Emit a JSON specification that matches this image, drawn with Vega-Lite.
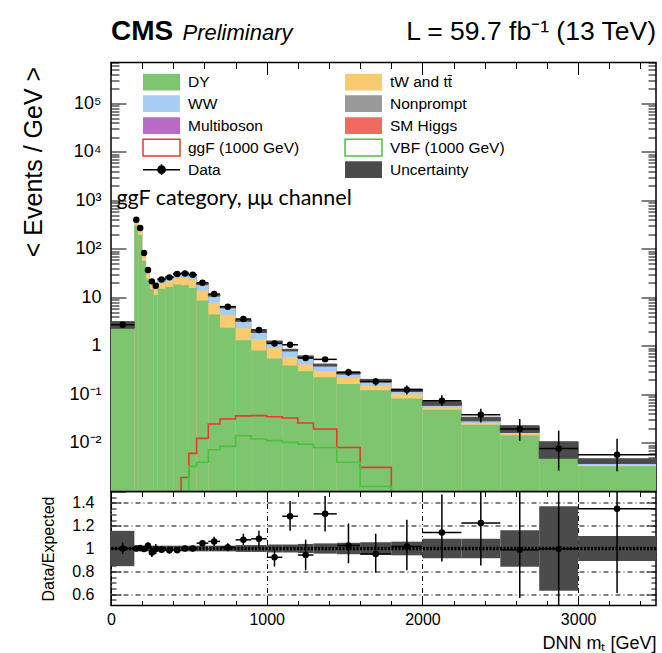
{
  "$schema": "https://vega.github.io/schema/vega-lite/v6.json",
  "background": "white",
  "padding": {"left": 20, "top": 16.5, "right": 6, "bottom": 2},
  "config": {
    "font": "Liberation Sans",
    "view": {"stroke": "black", "strokeWidth": 1.5},
    "axis": {
      "domain": false, "grid": false, "tickColor": "black", "tickWidth": 1,
      "labelColor": "black", "labelFont": "Liberation Sans", "titleFont": "Liberation Sans",
      "titleFontWeight": "normal", "titleColor": "black", "labelFlush": false, "labelOverlap": false
    }
  },
  "datasets": {
    "bins": [
      {"lo": 0, "hi": 150, "c": 75, "DY": 2.475, "tW": 0.0825, "WW": 0.0825, "NP": 0.066, "MB": 0.033, "H": 0.011, "d": 2.75, "dl": 2.618, "dh": 2.896, "ml": 2.324, "mh": 3.176, "r": 1.0, "rl": 0.952, "rh": 1.053, "bl": 0.845, "bh": 1.155},
      {"lo": 150, "hi": 175, "c": 162.5, "DY": 305.5, "tW": 52.3, "WW": 28.1, "NP": 9.65, "MB": 4.82, "H": 1.61, "d": 402, "dl": 398, "dh": 406, "ml": 392, "mh": 412, "r": 1.0, "rl": 0.99, "rh": 1.01, "bl": 0.975, "bh": 1.025},
      {"lo": 175, "hi": 200, "c": 187.5, "DY": 194.2, "tW": 40.5, "WW": 24.3, "NP": 6.47, "MB": 3.24, "H": 1.08, "d": 271, "dl": 267.8, "dh": 274.3, "ml": 263, "mh": 276.4, "r": 1.005, "rl": 0.993, "rh": 1.017, "bl": 0.975, "bh": 1.025},
      {"lo": 200, "hi": 225, "c": 212.5, "DY": 56.5, "tW": 14.1, "WW": 9.14, "NP": 2.0, "MB": 1.0, "H": 0.33, "d": 82.7, "dl": 81.0, "dh": 84.3, "ml": 81.0, "mh": 85.2, "r": 0.995, "rl": 0.975, "rh": 1.015, "bl": 0.975, "bh": 1.025},
      {"lo": 225, "hi": 250, "c": 237.5, "DY": 23.76, "tW": 6.48, "WW": 4.32, "NP": 0.864, "MB": 0.432, "H": 0.144, "d": 36.9, "dl": 35.8, "dh": 38.0, "ml": 35.1, "mh": 36.9, "r": 1.025, "rl": 0.995, "rh": 1.055, "bl": 0.975, "bh": 1.025},
      {"lo": 250, "hi": 275, "c": 262.5, "DY": 14.72, "tW": 4.01, "WW": 2.68, "NP": 0.535, "MB": 0.268, "H": 0.089, "d": 21.5, "dl": 20.6, "dh": 22.4, "ml": 21.7, "mh": 22.9, "r": 0.965, "rl": 0.925, "rh": 1.005, "bl": 0.975, "bh": 1.025},
      {"lo": 275, "hi": 300, "c": 287.5, "DY": 11.26, "tW": 3.34, "WW": 2.29, "NP": 0.422, "MB": 0.211, "H": 0.07, "d": 17.5, "dl": 16.7, "dh": 18.3, "ml": 17.2, "mh": 18.0, "r": 0.995, "rl": 0.95, "rh": 1.04, "bl": 0.975, "bh": 1.025},
      {"lo": 300, "hi": 350, "c": 325, "DY": 15.23, "tW": 4.52, "WW": 3.09, "NP": 0.571, "MB": 0.286, "H": 0.095, "d": 23.6, "dl": 22.8, "dh": 24.3, "ml": 23.2, "mh": 24.4, "r": 0.99, "rl": 0.96, "rh": 1.02, "bl": 0.975, "bh": 1.025},
      {"lo": 350, "hi": 400, "c": 375, "DY": 16.37, "tW": 5.28, "WW": 3.7, "NP": 0.634, "MB": 0.317, "H": 0.106, "d": 26.0, "dl": 25.2, "dh": 26.8, "ml": 25.7, "mh": 27.1, "r": 0.985, "rl": 0.955, "rh": 1.015, "bl": 0.975, "bh": 1.025},
      {"lo": 400, "hi": 450, "c": 425, "DY": 18.6, "tW": 6.51, "WW": 4.65, "NP": 0.744, "MB": 0.372, "H": 0.124, "d": 30.5, "dl": 29.8, "dh": 31.3, "ml": 30.2, "mh": 31.8, "r": 0.985, "rl": 0.96, "rh": 1.01, "bl": 0.975, "bh": 1.025},
      {"lo": 450, "hi": 500, "c": 475, "DY": 17.9, "tW": 7.22, "WW": 5.02, "NP": 0.754, "MB": 0.377, "H": 0.126, "d": 31.4, "dl": 30.6, "dh": 32.2, "ml": 30.6, "mh": 32.2, "r": 1.0, "rl": 0.975, "rh": 1.025, "bl": 0.975, "bh": 1.025},
      {"lo": 500, "hi": 550, "c": 525, "DY": 15.64, "tW": 7.38, "WW": 5.31, "NP": 0.708, "MB": 0.354, "H": 0.118, "d": 29.5, "dl": 28.8, "dh": 30.2, "ml": 28.8, "mh": 30.2, "r": 1.0, "rl": 0.975, "rh": 1.025, "bl": 0.975, "bh": 1.025},
      {"lo": 550, "hi": 625, "c": 587.5, "DY": 8.69, "tW": 5.21, "WW": 3.86, "NP": 0.926, "MB": 0.463, "H": 0.154, "d": 20.2, "dl": 19.7, "dh": 20.7, "ml": 18.8, "mh": 19.8, "r": 1.047, "rl": 1.02, "rh": 1.075, "bl": 0.975, "bh": 1.025},
      {"lo": 625, "hi": 700, "c": 662.5, "DY": 4.44, "tW": 3.33, "WW": 2.44, "NP": 0.533, "MB": 0.266, "H": 0.089, "d": 11.8, "dl": 11.34, "dh": 12.23, "ml": 10.82, "mh": 11.38, "r": 1.062, "rl": 1.022, "rh": 1.102, "bl": 0.975, "bh": 1.025},
      {"lo": 700, "hi": 800, "c": 750, "DY": 2.37, "tW": 2.05, "WW": 1.47, "NP": 0.307, "MB": 0.154, "H": 0.051, "d": 6.46, "dl": 6.24, "dh": 6.69, "ml": 6.24, "mh": 6.56, "r": 1.01, "rl": 0.975, "rh": 1.045, "bl": 0.975, "bh": 1.025},
      {"lo": 800, "hi": 900, "c": 850, "DY": 1.307, "tW": 1.005, "WW": 0.804, "NP": 0.141, "MB": 0.07, "H": 0.023, "d": 3.6, "dl": 3.45, "dh": 3.79, "ml": 3.25, "mh": 3.45, "r": 1.076, "rl": 1.03, "rh": 1.13, "bl": 0.97, "bh": 1.03},
      {"lo": 900, "hi": 1000, "c": 950, "DY": 0.808, "tW": 0.591, "WW": 0.493, "NP": 0.047, "MB": 0.024, "H": 0.008, "d": 2.14, "dl": 1.99, "dh": 2.28, "ml": 1.91, "mh": 2.03, "r": 1.085, "rl": 1.009, "rh": 1.156, "bl": 0.97, "bh": 1.03},
      {"lo": 1000, "hi": 1100, "c": 1050, "DY": 0.551, "tW": 0.343, "WW": 0.245, "NP": 0.051, "MB": 0.026, "H": 0.009, "d": 1.13, "dl": 1.032, "dh": 1.224, "ml": 1.181, "mh": 1.267, "r": 0.923, "rl": 0.843, "rh": 1.0, "bl": 0.965, "bh": 1.035},
      {"lo": 1100, "hi": 1200, "c": 1150, "DY": 0.396, "tW": 0.198, "WW": 0.173, "NP": 0.035, "MB": 0.017, "H": 0.006, "d": 1.06, "dl": 0.955, "dh": 1.17, "ml": 0.797, "mh": 0.855, "r": 1.283, "rl": 1.156, "rh": 1.416, "bl": 0.965, "bh": 1.035},
      {"lo": 1200, "hi": 1300, "c": 1250, "DY": 0.3, "tW": 0.114, "WW": 0.126, "NP": 0.036, "MB": 0.018, "H": 0.006, "d": 0.566, "dl": 0.486, "dh": 0.646, "ml": 0.576, "mh": 0.624, "r": 0.943, "rl": 0.81, "rh": 1.076, "bl": 0.96, "bh": 1.04},
      {"lo": 1300, "hi": 1450, "c": 1375, "DY": 0.227, "tW": 0.073, "WW": 0.077, "NP": 0.017, "MB": 0.0085, "H": 0.0028, "d": 0.53, "dl": 0.467, "dh": 0.593, "ml": 0.388, "mh": 0.424, "r": 1.304, "rl": 1.15, "rh": 1.46, "bl": 0.955, "bh": 1.045},
      {"lo": 1450, "hi": 1600, "c": 1525, "DY": 0.1643, "tW": 0.0557, "WW": 0.039, "NP": 0.0117, "MB": 0.0058, "H": 0.0019, "d": 0.286, "dl": 0.242, "dh": 0.34, "ml": 0.265, "mh": 0.292, "r": 1.027, "rl": 0.87, "rh": 1.22, "bl": 0.95, "bh": 1.05},
      {"lo": 1600, "hi": 1800, "c": 1700, "DY": 0.1222, "tW": 0.0291, "WW": 0.0233, "NP": 0.0116, "MB": 0.0058, "H": 0.0019, "d": 0.185, "dl": 0.153, "dh": 0.219, "ml": 0.183, "mh": 0.205, "r": 0.952, "rl": 0.79, "rh": 1.13, "bl": 0.945, "bh": 1.055},
      {"lo": 1800, "hi": 2000, "c": 1900, "DY": 0.0823, "tW": 0.0184, "WW": 0.0135, "NP": 0.0052, "MB": 0.0026, "H": 0.0009, "d": 0.125, "dl": 0.0995, "dh": 0.1539, "ml": 0.1154, "mh": 0.1302, "r": 1.018, "rl": 0.81, "rh": 1.253, "bl": 0.94, "bh": 1.06},
      {"lo": 2000, "hi": 2250, "c": 2125, "DY": 0.0484, "tW": 0.0039, "WW": 0.0092, "NP": 0.0024, "MB": 0.0012, "H": 0.0004, "d": 0.0745, "dl": 0.0579, "dh": 0.0964, "ml": 0.0598, "mh": 0.071, "r": 1.14, "rl": 0.885, "rh": 1.474, "bl": 0.915, "bh": 1.085},
      {"lo": 2250, "hi": 2500, "c": 2375, "DY": 0.0238, "tW": 0.0016, "WW": 0.0044, "NP": 0.0009, "MB": 0.0005, "H": 0.0002, "d": 0.0383, "dl": 0.0266, "dh": 0.0507, "ml": 0.0286, "mh": 0.034, "r": 1.224, "rl": 0.85, "rh": 1.62, "bl": 0.915, "bh": 1.085},
      {"lo": 2500, "hi": 2750, "c": 2625, "DY": 0.0145, "tW": 0.0012, "WW": 0.0027, "NP": 0.0007, "MB": 0.0004, "H": 0.0001, "d": 0.0194, "dl": 0.0111, "dh": 0.0314, "ml": 0.0165, "mh": 0.0227, "r": 0.988, "rl": 0.566, "rh": 1.6, "bl": 0.84, "bh": 1.16},
      {"lo": 2750, "hi": 3000, "c": 2875, "DY": 0.00618, "tW": 0.00039, "WW": 0.00077, "NP": 0.00023, "MB": 0.00012, "H": 0.00004, "d": 0.0077, "dl": 0.0027, "dh": 0.018, "ml": 0.00486, "mh": 0.01058, "r": 0.997, "rl": 0.35, "rh": 2.33, "bl": 0.63, "bh": 1.37},
      {"lo": 3000, "hi": 3500, "c": 3250, "DY": 0.00332, "tW": 0.00021, "WW": 0.00051, "NP": 0.00013, "MB": 0.00006, "H": 0.00002, "d": 0.00574, "dl": 0.0026, "dh": 0.0123, "ml": 0.00379, "mh": 0.00473, "r": 1.348, "rl": 0.61, "rh": 2.89, "bl": 0.89, "bh": 1.11}
    ],
    "ggf": [
      {"lo": 400, "v": 0.0003}, {"lo": 450, "v": 0.00195}, {"lo": 500, "v": 0.0061}, {"lo": 550, "v": 0.01245},
      {"lo": 625, "v": 0.0246}, {"lo": 700, "v": 0.0313}, {"lo": 800, "v": 0.0362}, {"lo": 900, "v": 0.0366},
      {"lo": 1000, "v": 0.0348}, {"lo": 1100, "v": 0.0328}, {"lo": 1200, "v": 0.0258}, {"lo": 1300, "v": 0.0194},
      {"lo": 1450, "v": 0.0081}, {"lo": 1600, "v": 0.00314}, {"lo": 1800, "v": 0.0003}
    ],
    "vbf": [
      {"lo": 450, "v": 0.0003}, {"lo": 500, "v": 0.0033}, {"lo": 550, "v": 0.004}, {"lo": 625, "v": 0.00728},
      {"lo": 700, "v": 0.0085}, {"lo": 800, "v": 0.01415}, {"lo": 900, "v": 0.0121}, {"lo": 1000, "v": 0.0112},
      {"lo": 1100, "v": 0.0103}, {"lo": 1200, "v": 0.0095}, {"lo": 1300, "v": 0.0081}, {"lo": 1450, "v": 0.004},
      {"lo": 1600, "v": 0.00127}, {"lo": 1800, "v": 0.0003}
    ]
  },
  "spacing": 0,
  "bounds": "flush",
  "vconcat": [
    {
      "width": 545,
      "height": 429,
      "resolve": {"axis": {"x": "independent", "y": "independent"}},
      "layer": [
        {
          "data": {"name": "bins"},
          "transform": [
            {"fold": ["DY", "tW", "WW", "NP", "MB", "H"], "as": ["proc", "val"]},
            {"window": [{"op": "sum", "field": "val", "as": "cum"}], "groupby": ["lo"], "frame": [null, 0]}
          ],
          "mark": {"type": "rect", "strokeWidth": 0},
          "encoding": {
            "x": {"field": "lo", "type": "quantitative", "scale": {"domain": [0, 3500], "nice": false, "zero": false},
                  "axis": {"orient": "bottom", "values": [0, 1000, 2000, 3000], "tickSize": -12, "labels": false, "title": null}},
            "x2": {"field": "hi"},
            "y": {"field": "cum", "type": "quantitative", "scale": {"type": "log", "domain": [0.001, 700000], "nice": false},
                  "axis": {"orient": "left", "values": [0.001, 0.01, 0.1, 1, 10, 100, 1000, 10000, 100000], "tickSize": -15,
                           "labelFontSize": 18, "labelPadding": 25,
                           "labelExpr": "datum.value > 50000 ? '10⁵' : datum.value > 5000 ? '10⁴' : datum.value > 500 ? '10³' : datum.value > 50 ? '10²' : datum.value > 5 ? '10' : datum.value > 0.5 ? '1' : datum.value > 0.05 ? '10⁻¹' : datum.value > 0.005 ? '10⁻²' : ''",
                           "title": "< Events / GeV >", "titleFontSize": 25, "titleX": -65, "titleY": 99,
                           "titleAlign": "center", "titleAngle": 270, "titleBaseline": "bottom"}},
            "y2": {"datum": 0.001},
            "fill": {
              "field": "proc", "type": "nominal",
              "scale": {
                "domain": ["DY", "WW", "MB", "ggF", "Data", "tW", "NP", "H", "VBF", "Unc"],
                "range": ["#7dc56e", "#a6cdf3", "#b96bc5", "#ffffff", "#000000", "#f8cc6e", "#999999", "#ef6a61", "#ffffff", "#4b4b4b"]
              },
              "legend": {
                "orient": "none", "legendX": 31, "legendY": 9.2, "title": null, "columns": 2,
                "columnPadding": 42, "rowPadding": -2.25, "padding": 0, "symbolSize": 324,
                "labelFont": "Liberation Sans", "labelFontSize": 15.5, "labelColor": "black", "labelOffset": 26, "labelLimit": 220,
                "labelExpr": "{'DY': 'DY', 'tW': 'tW and tt\u0304', 'WW': 'WW', 'NP': 'Nonprompt', 'MB': 'Multiboson', 'H': 'SM Higgs', 'ggF': 'ggF (1000 GeV)', 'VBF': 'VBF (1000 GeV)', 'Data': 'Data', 'Unc': 'Uncertainty'}[datum.value]",
                "encode": {
                  "symbols": {
                    "update": {
                      "shape": {"signal": "datum.value === 'Data' ? 'M-1,0H3.11M1.06,-0.6V0.6M0.66,0A0.4,0.4,0,1,0,1.46,0A0.4,0.4,0,1,0,0.66,0Z' : 'M-1,-0.93H3.11V0.93H-1Z'"},
                      "stroke": {"signal": "datum.value === 'ggF' ? '#e8392b' : datum.value === 'VBF' ? '#4cc23c' : datum.value === 'Data' ? '#000000' : 'transparent'"},
                      "strokeWidth": {"value": 1.5}
                    }
                  }
                }
              }
            },
            "order": {"field": "cum", "sort": "descending"}
          }
        },
        {
          "data": {"name": "ggf"},
          "mark": {"type": "line", "interpolate": "step-after", "clip": true, "color": "#e8392b", "strokeWidth": 1.6},
          "encoding": {
            "x": {"field": "lo", "type": "quantitative", "scale": {"domain": [0, 3500], "nice": false, "zero": false},
                  "axis": {"orient": "bottom", "values": [200, 400, 600, 800, 1200, 1400, 1600, 1800, 2200, 2400, 2600, 2800, 3200, 3400], "tickSize": -6, "labels": false, "title": null}},
            "y": {"field": "v", "type": "quantitative", "scale": {"type": "log", "domain": [0.001, 700000], "nice": false},
                  "axis": {"orient": "left", "values": [0.002, 0.003, 0.004, 0.005, 0.006, 0.007, 0.008, 0.009, 0.02, 0.03, 0.04, 0.05, 0.06, 0.07, 0.08, 0.09, 0.2, 0.3, 0.4, 0.5, 0.6, 0.7, 0.8, 0.9, 2, 3, 4, 5, 6, 7, 8, 9, 20, 30, 40, 50, 60, 70, 80, 90, 200, 300, 400, 500, 600, 700, 800, 900, 2000, 3000, 4000, 5000, 6000, 7000, 8000, 9000, 20000, 30000, 40000, 50000, 60000, 70000, 80000, 90000, 200000, 300000, 400000, 500000, 600000, 700000], "tickSize": -8, "labels": false, "title": null}}
          }
        },
        {
          "data": {"name": "vbf"},
          "mark": {"type": "line", "interpolate": "step-after", "clip": true, "color": "#4cc23c", "strokeWidth": 1.6},
          "encoding": {
            "x": {"field": "lo", "type": "quantitative", "scale": {"domain": [0, 3500], "nice": false, "zero": false},
                  "axis": {"orient": "top", "values": [0, 1000, 2000, 3000], "tickSize": -12, "labels": false, "title": null}},
            "y": {"field": "v", "type": "quantitative", "scale": {"type": "log", "domain": [0.001, 700000], "nice": false},
                  "axis": {"orient": "right", "values": [0.001, 0.01, 0.1, 1, 10, 100, 1000, 10000, 100000], "tickSize": -15, "labels": false, "title": null}}
          }
        },
        {
          "data": {"name": "bins"},
          "mark": {"type": "rect", "color": "#4b4b4b", "stroke": "#4b4b4b", "strokeWidth": 1},
          "encoding": {
            "x": {"field": "lo", "type": "quantitative", "scale": {"domain": [0, 3500], "nice": false, "zero": false},
                  "axis": {"orient": "top", "values": [200, 400, 600, 800, 1200, 1400, 1600, 1800, 2200, 2400, 2600, 2800, 3200, 3400], "tickSize": -6, "labels": false, "title": null}},
            "x2": {"field": "hi"},
            "y": {"field": "ml", "type": "quantitative", "scale": {"type": "log", "domain": [0.001, 700000], "nice": false},
                  "axis": {"orient": "right", "values": [0.002, 0.003, 0.004, 0.005, 0.006, 0.007, 0.008, 0.009, 0.02, 0.03, 0.04, 0.05, 0.06, 0.07, 0.08, 0.09, 0.2, 0.3, 0.4, 0.5, 0.6, 0.7, 0.8, 0.9, 2, 3, 4, 5, 6, 7, 8, 9, 20, 30, 40, 50, 60, 70, 80, 90, 200, 300, 400, 500, 600, 700, 800, 900, 2000, 3000, 4000, 5000, 6000, 7000, 8000, 9000, 20000, 30000, 40000, 50000, 60000, 70000, 80000, 90000, 200000, 300000, 400000, 500000, 600000, 700000], "tickSize": -8, "labels": false, "title": null}},
            "y2": {"field": "mh"}
          }
        },
        {
          "data": {"name": "bins"},
          "mark": {"type": "rule", "color": "black", "strokeWidth": 1.5},
          "encoding": {
            "x": {"field": "lo", "type": "quantitative", "scale": {"domain": [0, 3500], "nice": false, "zero": false}, "axis": null},
            "x2": {"field": "hi"},
            "y": {"field": "d", "type": "quantitative", "scale": {"type": "log", "domain": [0.001, 700000], "nice": false}, "axis": null}
          }
        },
        {
          "data": {"name": "bins"},
          "mark": {"type": "rule", "color": "black", "strokeWidth": 1.5},
          "encoding": {
            "x": {"field": "c", "type": "quantitative", "scale": {"domain": [0, 3500], "nice": false, "zero": false}, "axis": null},
            "y": {"field": "dl", "type": "quantitative", "scale": {"type": "log", "domain": [0.001, 700000], "nice": false}, "axis": null},
            "y2": {"field": "dh"}
          }
        },
        {
          "data": {"name": "bins"},
          "mark": {"type": "point", "filled": true, "size": 42, "color": "black", "opacity": 1},
          "encoding": {
            "x": {"field": "c", "type": "quantitative", "scale": {"domain": [0, 3500], "nice": false, "zero": false}, "axis": null},
            "y": {"field": "d", "type": "quantitative", "scale": {"type": "log", "domain": [0.001, 700000], "nice": false}, "axis": null}
          }
        },
        {
          "data": {"values": [{}]},
          "mark": {"type": "text", "text": "ggF category, μμ channel", "font": "Lato", "fontSize": 21.5, "align": "left", "baseline": "alphabetic", "color": "black"},
          "encoding": {
            "x": {"datum": 35, "type": "quantitative", "scale": {"domain": [0, 3500], "nice": false, "zero": false}, "axis": null},
            "y": {"datum": 800, "type": "quantitative", "scale": {"type": "log", "domain": [0.001, 700000], "nice": false}, "axis": null}
          }
        },
        {
          "data": {"values": [{}]},
          "mark": {"type": "text", "text": "CMS", "font": "Liberation Sans", "fontWeight": "bold", "fontSize": 28, "align": "left", "baseline": "alphabetic", "color": "black"},
          "encoding": {
            "x": {"datum": 0, "type": "quantitative", "scale": {"domain": [0, 3500], "nice": false, "zero": false}, "axis": null},
            "y": {"datum": 2060000, "type": "quantitative", "scale": {"type": "log", "domain": [0.001, 700000], "nice": false}, "axis": null}
          }
        },
        {
          "data": {"values": [{}]},
          "mark": {"type": "text", "text": "Preliminary", "font": "Liberation Sans", "fontStyle": "italic", "fontSize": 22, "align": "left", "baseline": "alphabetic", "color": "black"},
          "encoding": {
            "x": {"datum": 459, "type": "quantitative", "scale": {"domain": [0, 3500], "nice": false, "zero": false}, "axis": null},
            "y": {"datum": 2060000, "type": "quantitative", "scale": {"type": "log", "domain": [0.001, 700000], "nice": false}, "axis": null}
          }
        },
        {
          "data": {"values": [{}]},
          "mark": {"type": "text", "text": "L = 59.7 fb⁻¹ (13 TeV)", "font": "Liberation Sans", "fontSize": 26.5, "align": "right", "baseline": "alphabetic", "color": "black"},
          "encoding": {
            "x": {"datum": 3500, "type": "quantitative", "scale": {"domain": [0, 3500], "nice": false, "zero": false}, "axis": null},
            "y": {"datum": 2060000, "type": "quantitative", "scale": {"type": "log", "domain": [0.001, 700000], "nice": false}, "axis": null}
          }
        }
      ]
    },
    {
      "width": 545,
      "height": 114,
      "resolve": {"axis": {"x": "independent", "y": "independent"}},
      "layer": [
        {
          "data": {"name": "bins"},
          "mark": {"type": "rect", "color": "#4b4b4b"},
          "encoding": {
            "x": {"field": "lo", "type": "quantitative", "scale": {"domain": [0, 3500], "nice": false, "zero": false},
                  "axis": {"orient": "bottom", "values": [0, 1000, 2000, 3000], "format": "d", "tickSize": -10, "labelFontSize": 16, "labelPadding": 16,
                           "grid": true, "gridColor": "black", "gridDash": [5, 3, 1, 3], "gridWidth": 1,
                           "title": "DNN mₜ [GeV]", "titleFontSize": 18, "titleX": 545, "titleY": 43, "titleAlign": "right", "titleBaseline": "alphabetic"}},
            "x2": {"field": "hi"},
            "y": {"field": "bl", "type": "quantitative", "scale": {"domain": [0.5, 1.5], "nice": false, "zero": false},
                  "axis": {"orient": "left", "values": [0.6, 0.8, 1, 1.2, 1.4], "tickSize": -10, "labelFontSize": 16, "labelPadding": 27,
                           "labelExpr": "datum.value == 1 ? '1' : format(datum.value, '.1f')",
                           "grid": true, "gridColor": "black", "gridDash": [5, 3, 1, 3], "gridWidth": 1,
                           "title": "Data/Expected", "titleFontSize": 16, "titleX": -55, "titleY": 57, "titleAlign": "center", "titleAngle": 270, "titleBaseline": "bottom"}},
            "y2": {"field": "bh"}
          }
        },
        {
          "data": {"values": [{}]},
          "mark": {"type": "rule", "color": "black", "strokeWidth": 3.5, "strokeDash": [2, 1.5]},
          "encoding": {
            "y": {"datum": 1, "type": "quantitative", "scale": {"domain": [0.5, 1.5], "nice": false, "zero": false}, "axis": null}
          }
        },
        {
          "data": {"name": "bins"},
          "mark": {"type": "rule", "color": "black", "strokeWidth": 1.5},
          "encoding": {
            "x": {"field": "lo", "type": "quantitative", "scale": {"domain": [0, 3500], "nice": false, "zero": false},
                  "axis": {"orient": "bottom", "values": [200, 400, 600, 800, 1200, 1400, 1600, 1800, 2200, 2400, 2600, 2800, 3200, 3400], "tickSize": -5, "labels": false, "title": null}},
            "x2": {"field": "hi"},
            "y": {"field": "r", "type": "quantitative", "scale": {"domain": [0.5, 1.5], "nice": false, "zero": false},
                  "axis": {"orient": "left", "values": [0.55, 0.65, 0.7, 0.75, 0.85, 0.9, 0.95, 1.05, 1.1, 1.15, 1.25, 1.3, 1.35, 1.45], "tickSize": -5, "labels": false, "title": null}}
          }
        },
        {
          "data": {"name": "bins"},
          "mark": {"type": "rule", "color": "black", "strokeWidth": 1.5, "clip": true},
          "encoding": {
            "x": {"field": "c", "type": "quantitative", "scale": {"domain": [0, 3500], "nice": false, "zero": false},
                  "axis": {"orient": "top", "values": [0, 1000, 2000, 3000], "tickSize": -10, "labels": false, "title": null}},
            "y": {"field": "rl", "type": "quantitative", "scale": {"domain": [0.5, 1.5], "nice": false, "zero": false},
                  "axis": {"orient": "right", "values": [0.6, 0.8, 1, 1.2, 1.4], "tickSize": -10, "labels": false, "title": null}},
            "y2": {"field": "rh"}
          }
        },
        {
          "data": {"name": "bins"},
          "mark": {"type": "point", "filled": true, "size": 42, "color": "black", "opacity": 1},
          "encoding": {
            "x": {"field": "c", "type": "quantitative", "scale": {"domain": [0, 3500], "nice": false, "zero": false},
                  "axis": {"orient": "top", "values": [200, 400, 600, 800, 1200, 1400, 1600, 1800, 2200, 2400, 2600, 2800, 3200, 3400], "tickSize": -5, "labels": false, "title": null}},
            "y": {"field": "r", "type": "quantitative", "scale": {"domain": [0.5, 1.5], "nice": false, "zero": false},
                  "axis": {"orient": "right", "values": [0.55, 0.65, 0.7, 0.75, 0.85, 0.9, 0.95, 1.05, 1.1, 1.15, 1.25, 1.3, 1.35, 1.45], "tickSize": -5, "labels": false, "title": null}}
          }
        }
      ]
    }
  ]
}
